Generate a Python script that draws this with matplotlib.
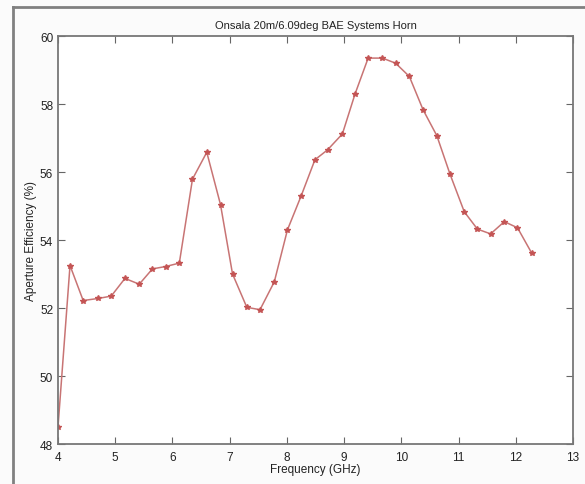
import matplotlib
matplotlib.use("Agg")
import matplotlib.pyplot as plt
from matplotlib.lines import Line2D

freq_ghz = [4.00, 4.21, 4.44, 4.70, 4.93, 5.17, 5.42, 5.65, 5.88, 6.12,
            6.35, 6.60, 6.84, 7.05, 7.30, 7.53, 7.78, 8.01, 8.25, 8.49,
            8.71, 8.97, 9.19, 9.42, 9.67, 9.90, 10.14, 10.38, 10.62, 10.85,
            11.10, 11.33, 11.56, 11.80, 12.03, 12.28]
efficiency = [48.50, 53.25, 52.22, 52.28, 52.35, 52.87, 52.70, 53.15, 53.22, 53.32,
              55.79, 56.58, 55.04, 53.00, 52.02, 51.95, 52.77, 54.30, 55.30, 56.36,
              56.65, 57.12, 58.29, 59.35, 59.35, 59.20, 58.81, 57.83, 57.07, 55.94,
              54.83, 54.32, 54.18, 54.54, 54.36, 53.61]
x_ticks = [4, 5, 6, 7, 8, 9, 10, 11, 12, 13]
y_ticks = [48, 50, 52, 54, 56, 58, 60]
title = "Onsala 20m/6.09deg BAE Systems Horn"
x_label = "Frequency (GHz)"
y_label = "Aperture Efficiency (%)"

plt.rcParams['font.family'] = ['Liberation Sans', 'DejaVu Sans']

fig = plt.figure(figsize=(5.85, 4.85), dpi=100, facecolor='#fbfbfb')
W, H = 585, 485
ax = fig.add_axes([58 / W, 1 - 445 / H, (573 - 58) / W, (445 - 37) / H])
ax.set_facecolor('white')

ax.plot(freq_ghz, efficiency, color='#c87474', linewidth=1.1,
        marker='*', markersize=4.2, markerfacecolor='#c45555',
        markeredgecolor='#c45555')

ax.set_xlim(4, 13)
ax.set_ylim(48, 60)
ax.set_xticks(x_ticks)
ax.set_yticks(y_ticks)
ax.tick_params(direction='in', top=True, right=True, length=5, width=0.8,
               colors='#666666', labelcolor='#222222', labelsize=8.5)
ax.tick_params(axis='x', pad=5)
for s in ax.spines.values():
    s.set_color('#777777')
    s.set_linewidth(1.3)

ax.set_title(title, fontsize=8, color='#222222', pad=6)
ax.set_xlabel(x_label, fontsize=8.5, color='#222222', labelpad=0)
ax.set_ylabel(y_label, fontsize=8.5, color='#222222', labelpad=2)

# scanned page frame (left and top)
fig.add_artist(Line2D([13 / W, 13 / W], [0, 1 - 8 / H], transform=fig.transFigure,
                      color='#808080', linewidth=2))
fig.add_artist(Line2D([13 / W, 1], [1 - 8 / H, 1 - 8 / H], transform=fig.transFigure,
                      color='#808080', linewidth=2))

fig.savefig("out.png", dpi=100, facecolor=fig.get_facecolor())
